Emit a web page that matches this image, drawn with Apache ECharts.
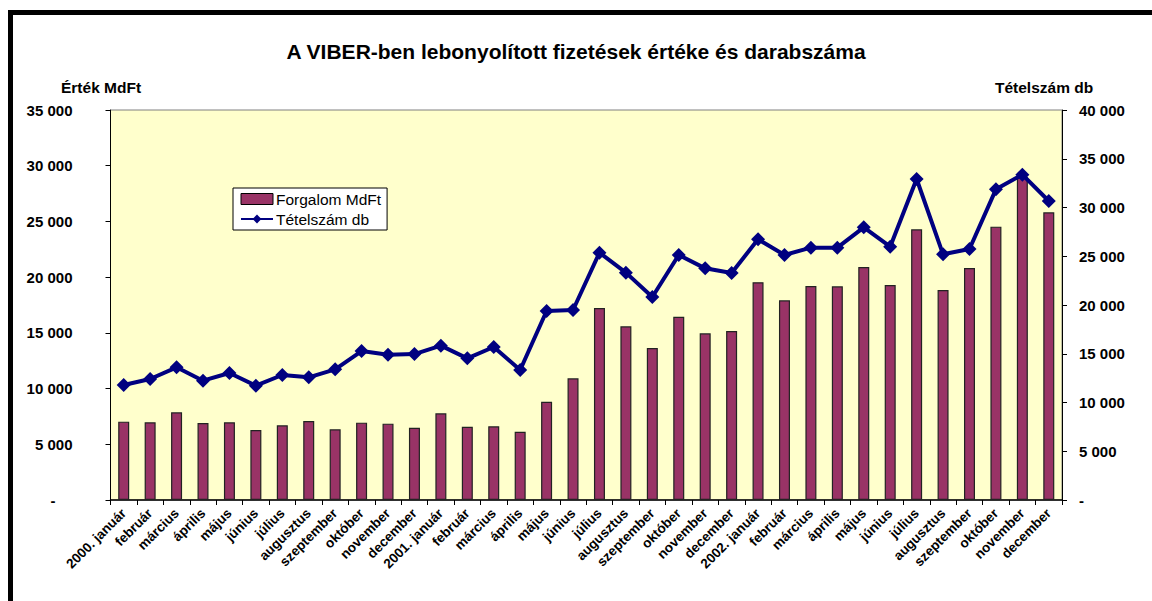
<!DOCTYPE html>
<html>
<head>
<meta charset="utf-8">
<script src="https://cdn.jsdelivr.net/npm/echarts@6/dist/echarts.min.js"></script>
<style>
html,body{margin:0;padding:0;background:#fff;}
#chart{width:1152px;height:601px;}
</style>
</head>
<body>
<div id="chart"></div>
<script>
const titleText = 'A VIBER-ben lebonyolított fizetések értéke és darabszáma';
const leftAxisName = 'Érték MdFt';
const rightAxisName = 'Tételszám db';
const barName = 'Forgalom MdFt';
const lineName = 'Tételszám db';
const categories = ['2000. január','február','március','április','május','június','július','augusztus','szeptember','október','november','december',
  '2001. január','február','március','április','május','június','július','augusztus','szeptember','október','november','december',
  '2002. január','február','március','április','május','június','július','augusztus','szeptember','október','november','december'];
const forgalom = [7030, 6970, 7870, 6910, 6970, 6280, 6700, 7090, 6340, 6940, 6850, 6490,
  7780, 6580, 6610, 6130, 8820, 10920, 17230, 15590, 13640, 16450, 14960, 15170,
  19540, 17920, 19210, 19180, 20910, 19300, 24290, 18850, 20820, 24530, 28960, 25820];
const tetelszam = [11800, 12410, 13610, 12240, 13030, 11730, 12820, 12580, 13400, 15280, 14900, 14970,
  15830, 14530, 15690, 13330, 19380, 19490, 25370, 23320, 20820, 25130, 23760, 23280,
  26740, 25130, 25880, 25880, 27970, 25980, 32920, 25200, 25740, 31860, 33370, 30670];
const leftMax = 35000, rightMax = 40000, tickStep = 5000;

const FONT = '"Liberation Sans", Arial, sans-serif';
function fmt(v){
  if (v === 0) return '-';
  return String(v).replace(/\B(?=(\d{3})+(?!\d))/g, ' ');
}
const chart = echarts.init(document.getElementById('chart'), null, {renderer: 'svg'});
chart.setOption({
  backgroundColor: '#ffffff',
  animation: false,
  textStyle: {fontFamily: FONT},
  title: [
    {text: titleText, left: 'center', top: 36, textStyle: {fontFamily: FONT, fontSize: 21, fontWeight: 'bold', color: '#000'}},
    {text: leftAxisName, left: 56, top: 74, textStyle: {fontFamily: FONT, fontSize: 15.5, fontWeight: 'bold', color: '#000'}},
    {text: rightAxisName, left: 990, top: 74, textStyle: {fontFamily: FONT, fontSize: 15.5, fontWeight: 'bold', color: '#000'}}
  ],
  graphic: [
    {type: 'rect', shape: {x: 8, y: 10, width: 1144, height: 5}, style: {fill: '#000'}, z: 100},
    {type: 'rect', shape: {x: 8, y: 10, width: 5, height: 591}, style: {fill: '#000'}, z: 100}
  ],
  legend: {
    orient: 'vertical',
    left: 233, top: 188,
    backgroundColor: '#ffffff',
    borderColor: '#000', borderWidth: 1,
    padding: [3, 6, 3, 7],
    itemGap: 4,
    itemWidth: 32, itemHeight: 11,
    textStyle: {fontFamily: FONT, fontSize: 15.5, color: '#000', padding: [0, 0, 0, -2]},
    data: [
      {name: barName, icon: 'rect', itemStyle: {borderColor: '#000', borderWidth: 1}},
      {name: lineName}
    ]
  },
  grid: {
    left: 110.5, right: 90, top: 110, bottom: 101,
    show: true, backgroundColor: '#FFFFCC', borderColor: '#808080', borderWidth: 1
  },
  xAxis: {
    type: 'category',
    data: categories,
    boundaryGap: true,
    axisLine: {lineStyle: {color: '#000', width: 1.5}},
    axisTick: {show: true, inside: false, length: 5, interval: 0, alignWithLabel: false, lineStyle: {color: '#000'}},
    axisLabel: {interval: 0, rotate: 45, margin: 11, fontFamily: FONT, fontSize: 13.5, fontWeight: 'bold', color: '#000'}
  },
  yAxis: [
    {
      type: 'value', min: 0, max: leftMax, interval: tickStep, position: 'left',
      splitLine: {show: false},
      axisLine: {show: true, lineStyle: {color: '#000', width: 1}},
      axisTick: {show: true, length: 5, lineStyle: {color: '#000'}},
      axisLabel: {
        margin: 38, fontFamily: FONT, fontSize: 15, fontWeight: 'bold', color: '#000',
        formatter: function(v){ return v === 0 ? '{d|-}' : fmt(v); },
        rich: {d: {fontFamily: FONT, fontSize: 15, fontWeight: 'bold', color: '#000', padding: [0, 17, 0, 0]}}
      }
    },
    {
      type: 'value', min: 0, max: rightMax, interval: tickStep, position: 'right',
      splitLine: {show: false},
      axisLine: {show: true, lineStyle: {color: '#000', width: 1}},
      axisTick: {show: true, length: 5, lineStyle: {color: '#000'}},
      axisLabel: {
        margin: 17, fontFamily: FONT, fontSize: 15, fontWeight: 'bold', color: '#000',
        formatter: fmt
      }
    }
  ],
  series: [
    {
      name: barName, type: 'bar', yAxisIndex: 0, data: forgalom,
      barWidth: 11,
      itemStyle: {color: '#993366', borderColor: '#222', borderWidth: 1.2}
    },
    {
      name: lineName, type: 'line', yAxisIndex: 1, data: tetelszam,
      symbol: 'diamond', symbolSize: 14,
      lineStyle: {color: '#000080', width: 4},
      itemStyle: {color: '#000080'},
      z: 5
    }
  ]
});
</script>
</body>
</html>
